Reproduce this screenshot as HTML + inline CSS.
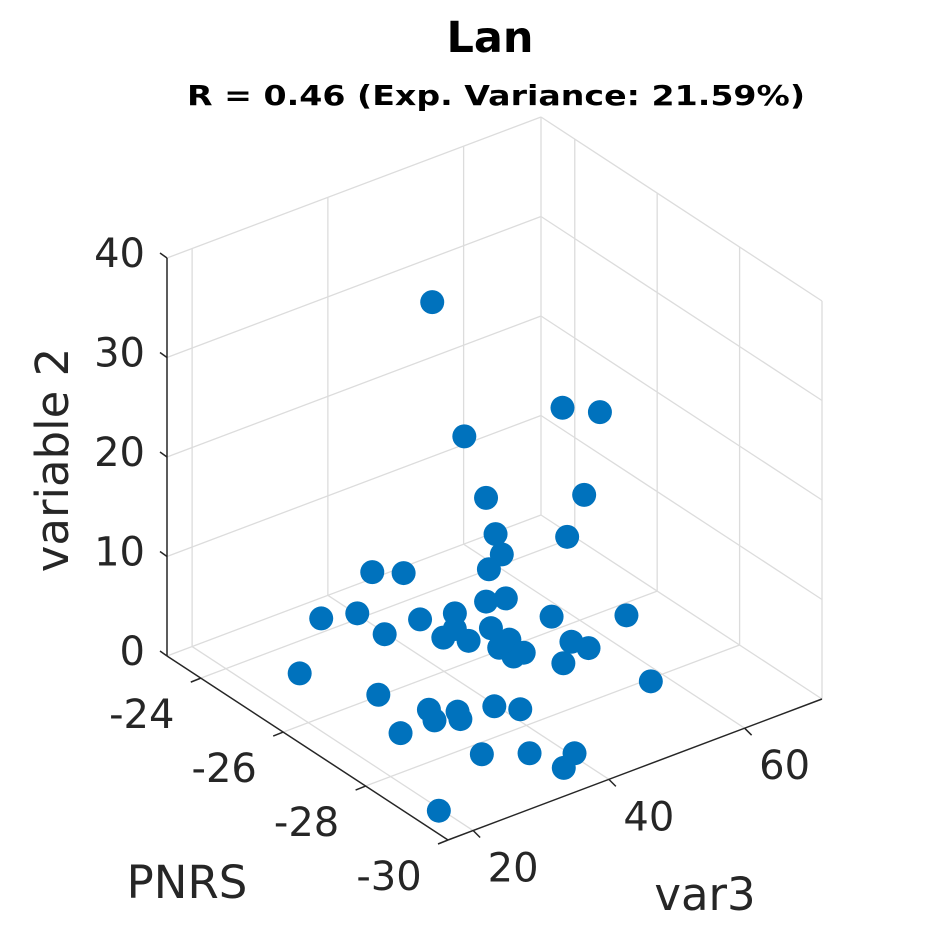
<!DOCTYPE html>
<html><head><meta charset="utf-8"><style>
html,body{margin:0;padding:0;background:#fff;}
svg{display:block;font-family:"DejaVu Sans","Liberation Sans",sans-serif;}
</style></head><body>
<svg id="chart" width="945" height="945" viewBox="0 0 945 945">
<rect width="945" height="945" fill="#fff"/>
<text x="490" y="52" text-anchor="middle" font-size="43" font-weight="bold" fill="#000">Lan</text>
<text x="496" y="105" text-anchor="middle" font-size="28" font-weight="bold" fill="#000" textLength="618" lengthAdjust="spacingAndGlyphs">R = 0.46 (Exp. Variance: 21.59%)</text>
<g id="grid"></g>
<g id="axes"></g>
<g id="points"></g>
<text transform="translate(68,460) rotate(-90)" text-anchor="middle" font-size="45" fill="#262626">variable 2</text>
<text x="187" y="898" text-anchor="middle" font-size="45" fill="#262626">PNRS</text>
<text x="705" y="910" text-anchor="middle" font-size="45" fill="#262626">var3</text>
</svg>
<script>
const pnrsTicks = [-24, -26, -28, -30];
const var3Ticks = [20, 40, 60];
const zTicks = [0, 10, 20, 30, 40];
const pnrsValues = [-25.4,-26.7,-26.9,-25.8,-25.8,-26.6,-25.8,-26.5,-26.1,-26.1,-24.9,-25.2,-25.9,-26.0,-24.6,-24.8,-25.5,-25.9,-26.6,-27.0,-25.3,-25.9,-25.8,-26.2,-26.1,-26.4,-26.3,-26.5,-26.5,-26.9,-27.2,-27.1,-25.0,-28.3,-26.2,-27.0,-27.3,-27.3,-27.5,-27.5,-27.8,-27.3,-28.4,-28.8,-29.2,-29.4,-29.3,-26.3];
const var3Values = [41.9,53.2,57.5,44.2,47.4,57.0,48.8,55.1,47.9,46.0,36.1,38.9,46.8,49.1,30.4,34.5,39.5,42.2,52.2,60.8,35.5,40.5,42.8,42.4,46.3,45.7,47.8,47.2,48.7,53.3,54.0,50.9,24.8,56.5,29.1,31.7,34.1,30.7,33.3,38.3,40.3,25.7,31.0,35.6,39.8,37.0,19.2,46.8];
const var2Values = [35,25,24,22,15,15,11,11,10,9,8,8,5,5,4,4,4,5,4,3,3,3,3,3,3,2,2,1,1,2,2,1,1,1,1,1,1,1,1,1,1,1,0.5,0.5,0.5,0.3,0.3,2];

const PMIN=-30, PMAX=-23.18, VMIN=16.3, VMAX=71.4, ZMAX=40;
const B=[448,840], AB=[-281,-184], CB=[374,-141], ZPX=398;
function proj(p,v,z){
  const a=(p-PMIN)/(PMAX-PMIN), b=(v-VMIN)/(VMAX-VMIN), h=z/ZMAX*ZPX;
  return [B[0]+a*AB[0]+b*CB[0], B[1]+a*AB[1]+b*CB[1]-h];
}
const NS='http://www.w3.org/2000/svg';
function line(g,p1,p2,col,w,name){
  const l=document.createElementNS(NS,'line');
  l.setAttribute('x1',p1[0]);l.setAttribute('y1',p1[1]);l.setAttribute('x2',p2[0]);l.setAttribute('y2',p2[1]);
  l.setAttribute('stroke',col);l.setAttribute('stroke-width',w);
  
  
  g.appendChild(l);
}
function txt(g,x,y,s,anchor,name){
  const t=document.createElementNS(NS,'text');
  t.setAttribute('x',x);t.setAttribute('y',y);t.setAttribute('text-anchor',anchor);
  t.setAttribute('font-size','40');t.setAttribute('fill','#262626');
  t.textContent=s;
  
  
  g.appendChild(t);
}
const grid=document.getElementById('grid'), axes=document.getElementById('axes'), pts=document.getElementById('points');
const GC='#dcdcdc';
zTicks.forEach(z=>{
  if(z===0) return;
  line(grid,proj(PMAX,VMIN,z),proj(PMAX,VMAX,z),GC,1.3,'grid-line-z');
  line(grid,proj(PMAX,VMAX,z),proj(PMIN,VMAX,z),GC,1.3,'grid-line-z');
});
var3Ticks.forEach(v=>{
  line(grid,proj(PMAX,v,0),proj(PMAX,v,ZMAX),GC,1.3,'grid-line-var3-wall');
  line(grid,proj(PMIN,v,0),proj(PMAX,v,0),GC,1.3,'grid-line-var3-floor');
});
pnrsTicks.forEach(p=>{
  if(p===PMIN) return;
  line(grid,proj(p,VMAX,0),proj(p,VMAX,ZMAX),GC,1.3,'grid-line-pnrs-wall');
  line(grid,proj(p,VMIN,0),proj(p,VMAX,0),GC,1.3,'grid-line-pnrs-floor');
});
line(grid,proj(PMAX,VMAX,0),proj(PMAX,VMAX,ZMAX),GC,1.3,'box-edge');
line(grid,proj(PMIN,VMAX,0),proj(PMIN,VMAX,ZMAX),GC,1.3,'box-edge');
line(grid,proj(PMAX,VMIN,0),proj(PMAX,VMAX,0),GC,1.3,'box-edge');
line(grid,proj(PMAX,VMAX,0),proj(PMIN,VMAX,0),GC,1.3,'box-edge');
const AC='#262626';
line(axes,proj(PMAX,VMIN,0),proj(PMAX,VMIN,ZMAX),AC,1.5,'z-axis-line');
line(axes,proj(PMAX,VMIN,0),proj(PMIN,VMIN,0),AC,1.5,'pnrs-axis-line');
line(axes,proj(PMIN,VMIN,0),proj(PMIN,VMAX,0),AC,1.5,'var3-axis-line');
zTicks.forEach(z=>{
  const p=proj(PMAX,VMIN,z);
  line(axes,p,[p[0]-7,p[1]-5],AC,1.5,'z-tick');
  txt(axes,p[0]-22,p[1]+9,String(z),'end','z-tick-label');
});
pnrsTicks.forEach(pv=>{
  const p=proj(pv,VMIN,0);
  line(axes,p,[p[0]-10,p[1]+4],AC,1.5,'pnrs-tick');
  txt(axes,p[0]-59,p[1]+50,String(pv),'middle','pnrs-tick-label');
});
var3Ticks.forEach(v=>{
  const p=proj(PMIN,v,0);
  line(axes,p,[p[0]+7,p[1]+7],AC,1.5,'var3-tick');
  txt(axes,p[0]+40,p[1]+51,String(v),'middle','var3-tick-label');
});
pnrsValues.forEach((_,i)=>{
  const p=proj(pnrsValues[i],var3Values[i],var2Values[i]);
  const c=document.createElementNS(NS,'circle');
  c.setAttribute('cx',p[0]);c.setAttribute('cy',p[1]);c.setAttribute('r',12);
  c.setAttribute('fill','#0072BD');
  
  
  pts.appendChild(c);
});
</script>
</body></html>
